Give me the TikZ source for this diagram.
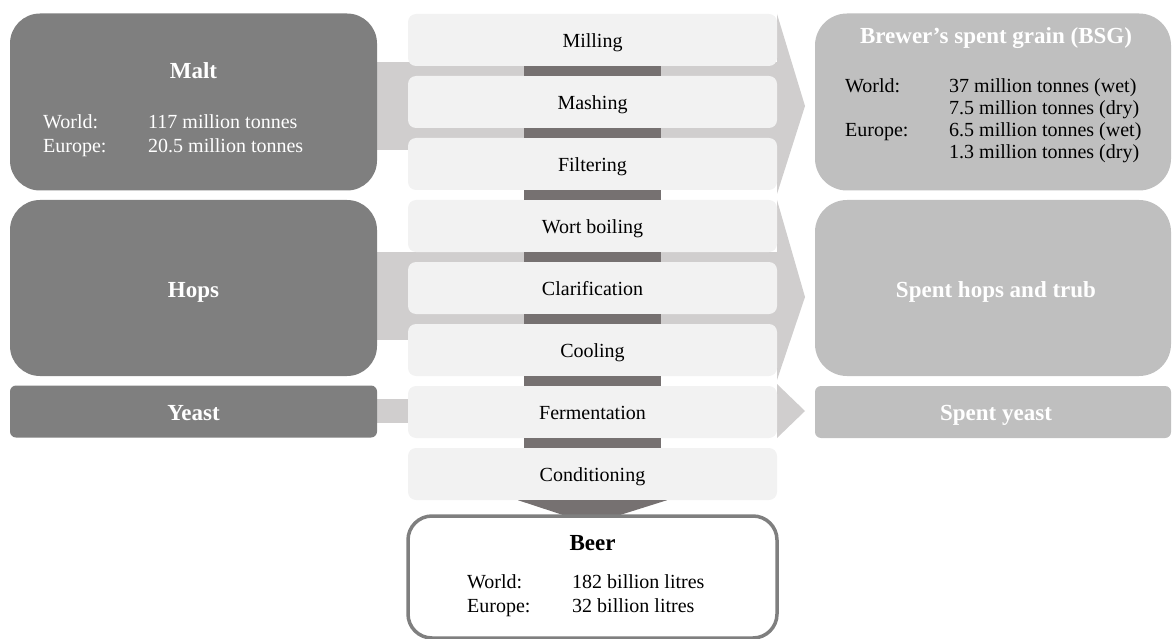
\documentclass[tikz,border=0pt]{standalone}
\usepackage{fontspec}
\setmainfont{Liberation Serif}
\definecolor{leftc}{HTML}{7F7F7F}
\definecolor{rightc}{HTML}{BFBFBF}
\definecolor{procc}{HTML}{F2F2F2}
\definecolor{bandc}{HTML}{D0CECE}
\definecolor{connc}{HTML}{767171}
\begin{document}
\begin{tikzpicture}[x=1pt,y=-1pt,
  srcbox/.style={fill=leftc, rounded corners=30pt, inner sep=0pt, minimum width=367pt},
  wastebox/.style={fill=rightc, rounded corners=32pt, inner sep=0pt, minimum width=356pt},
  procbox/.style={fill=procc, rounded corners=8pt, inner sep=0pt, minimum width=369pt, minimum height=52pt,
    text height=18pt, text depth=3pt, font=\fontsize{20pt}{24pt}\selectfont},
  ttl/.style={anchor=base, inner sep=0pt, font=\fontsize{23pt}{27pt}\selectfont\bfseries},
  row/.style={anchor=base west, inner sep=0pt, font=\fontsize{20pt}{24pt}\selectfont},
  band/.style={fill=bandc},
  link/.style={fill=connc}
]
\useasboundingbox (0,0) rectangle (1172,639);

% big arrows (background)
\fill[band] (360,62) rectangle (778,150);
\fill[band] (777,14) -- (805,106) -- (777,194) -- cycle;
\fill[band] (360,252) rectangle (778,340);
\fill[band] (777,200) -- (805,297) -- (777,380) -- cycle;
\fill[band] (360,399) rectangle (778,423);
\fill[band] (777,384) -- (805,411) -- (777,438) -- cycle;

% process steps
\node[procbox] (p1) at (592.5,40) {Milling};
\node[procbox] (p2) at (592.5,102) {Mashing};
\node[procbox] (p3) at (592.5,164) {Filtering};
\node[procbox] (p4) at (592.5,226) {Wort boiling};
\node[procbox] (p5) at (592.5,288) {Clarification};
\node[procbox] (p6) at (592.5,350) {Cooling};
\node[procbox] (p7) at (592.5,412) {Fermentation};
\node[procbox] (p8) at (592.5,474) {Conditioning};

\foreach \a/\b in {p1/p2,p2/p3,p3/p4,p4/p5,p5/p6,p6/p7,p7/p8}
  \fill[link] ([xshift=-68.5pt]\a.south) rectangle ([xshift=68.5pt]\b.north);

% funnel into beer
\fill[link] ([xshift=-74.5pt]p8.south) -- ([xshift=74.5pt]p8.south) -- (620,515) -- (563,515) -- cycle;

% inputs
\node[srcbox, minimum height=177pt] (malt) at (193.5,102) {};
\node[srcbox, minimum height=176pt] (hops) at (193.5,288) {};
\node[srcbox, rounded corners=6pt, minimum height=52pt] (yeast) at (193.5,411.5) {};

\node[ttl, text=white] (maltt) at (193.5,79) {Malt};
\node[row, text=white] (maltw) at (43,129) {World:};
\node[row, text=white] (maltwv) at (148,129) {117 million tonnes};
\node[row, text=white] (malte) at (43,153) {Europe:};
\node[row, text=white] (maltev) at (148,153) {20.5 million tonnes};
\node[ttl, text=white] (hopst) at (193.5,297) {Hops};
\node[ttl, text=white] (yeastt) at (193.5,420) {Yeast};

% outputs
\node[wastebox, minimum height=177pt] (bsg) at (993,102) {};
\node[wastebox, minimum height=176pt] (sht) at (993,288) {};
\node[wastebox, rounded corners=6pt, minimum height=52pt] (sy) at (993,412) {};

\node[ttl, text=white] (bsgt) at (996,44) {Brewer’s spent grain (BSG)};
\node[row] (bsgw) at (845,93) {World:};
\node[row] (bsgw1) at (949,93) {37 million tonnes (wet)};
\node[row] (bsgw2) at (949,115) {7.5 million tonnes (dry)};
\node[row] (bsge) at (845,137) {Europe:};
\node[row] (bsge1) at (949,137) {6.5 million tonnes (wet)};
\node[row] (bsge2) at (949,159) {1.3 million tonnes (dry)};
\node[ttl, text=white] (shtt) at (996,297) {Spent hops and trub};
\node[ttl, text=white] (syt) at (996,420) {Spent yeast};

% beer
\node[draw=leftc, line width=3.5pt, fill=white, rounded corners=24pt, minimum width=369pt, minimum height=122pt, inner sep=0pt] (beer) at (592.5,577) {};
\node[ttl] (beert) at (592.5,550) {Beer};
\node[row] (beerw) at (467,588) {World:};
\node[row] (beerwv) at (572,588) {182 billion litres};
\node[row] (beere) at (467,612) {Europe:};
\node[row] (beerev) at (572,612) {32 billion litres};
\end{tikzpicture}
\end{document}
